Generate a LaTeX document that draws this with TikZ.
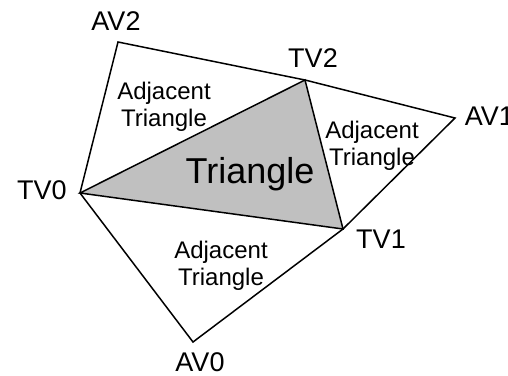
\documentclass[tikz,border=0pt]{standalone}
\usepackage{fontspec}
\setmainfont{Liberation Sans}
\definecolor{trigray}{RGB}{192,192,192}

\begin{document}
\begin{tikzpicture}[x=1pt,y=-1pt,line width=1.5pt,
  vlabel/.style={font=\fontsize{27}{30}\selectfont,inner sep=0pt,anchor=base},
  adjlabel/.style={font=\fontsize{24}{27}\selectfont,inner sep=0pt,align=center}]
\useasboundingbox (0,0) rectangle (508,375);
\coordinate (TV0) at (80,193);\coordinate (TV1) at (343,229);\coordinate (TV2) at (305,80);
\coordinate (AV0) at (193,342);\coordinate (AV1) at (455,118);\coordinate (AV2) at (118,42);
\fill[trigray] (TV0)--(TV2)--(TV1)--cycle;
\draw (TV0)--(AV2)--(TV2)--(AV1)--(TV1)--(AV0)--cycle;
\draw (TV0)--(TV2)--(TV1)--cycle;
\node[vlabel] (lAV2) at (116,30) {AV2};
\node[vlabel] (lTV2) at (313,67) {TV2};
\node[vlabel] (lTV0) at (42,199) {TV0};
\node[vlabel] (lTV1) at (381,248) {TV1};
\node[vlabel] (lAV0) at (200,371) {AV0};
\node[vlabel,anchor=base west] (lAV1) at (464,125) {AV1};
\node[inner sep=0pt,anchor=base,font=\fontsize{36}{40}\selectfont] (tri) at (250,183) {Triangle};
\node[adjlabel] (adjL) at (164,107) {Adjacent\\Triangle};
\node[adjlabel] (adjR) at (372,146) {Adjacent\\Triangle};
\node[adjlabel] (adjB) at (221,266) {Adjacent\\Triangle};
\end{tikzpicture}
\end{document}
